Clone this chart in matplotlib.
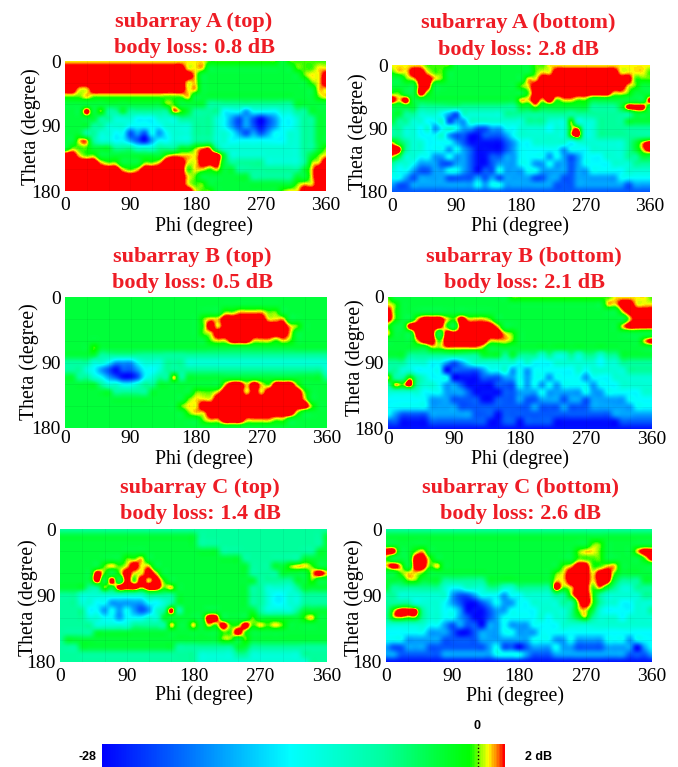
import numpy as np
import matplotlib
matplotlib.use("Agg")
import matplotlib.pyplot as plt
from matplotlib.colors import LinearSegmentedColormap, Normalize
from matplotlib.cm import ScalarMappable

W, H = 678, 767

# one digit per grid cell, read by eye: rows theta 0..180, columns phi 0..360, 10 degree steps
LEVELS_DB = [-27, -23, -19, -14, -11, -7, -3, -0.3, 0.8, 3]

A_TOP = [
    "8888888888 8888888888 7777777777 6777777",
    "9999999999 9999999888 6666666666 6677788",
    "9999999999 9999999986 6666666666 6667889",
    "9999999999 9999999886 6666666666 6666789",
    "9988999999 9999999886 6666666666 6666688",
    "7778777777 7777777866 6666666666 6666678",
    "6666666666 6666776666 5555555555 5566666",
    "6669675565 5555587655 5533323333 4455666",
    "6666655444 3334445555 5432121012 3345566",
    "6666554443 3333444455 5432121012 3345566",
    "6665544331 2132344455 5443212123 3445566",
    "6688544332 1023344455 5443333333 3445566",
    "6777666555 4445556678 8544444444 4445567",
    "9987766666 6666788889 9964444444 4445678",
    "9999987766 6778999889 9965555544 4445789",
    "9999999987 8999999788 7866555555 5556899",
    "9999999999 9999999876 6666665555 5566899",
    "9999999999 9999999877 6666666666 6678899",
    "9999999999 9999999987 7666666666 7889999",
]
A_BOTTOM = [
    "8888877776 6666666666 7788888888 8888888",
    "7889987766 6666666666 7889999999 9988887",
    "6678998766 6666666668 8999999999 9999777",
    "6666996666 6666666678 9999999999 9998766",
    "7766976666 6666666667 9999999999 9887666",
    "9896666666 6666666688 9897887766 6666669",
    "6666555555 5555555566 7666666655 5569996",
    "6655444321 4444445555 5555555555 5555666",
    "6554433412 2444444445 5544474445 5556666",
    "5544342343 2211223344 4434478445 5555555",
    "5544333421 1001112344 4444479445 5555555",
    "8654433332 1000001233 4444434444 4445689",
    "9954433323 2100001233 3333233344 4445689",
    "8644332232 2100112233 3323212333 4445566",
    "5443222112 2100122233 2232212333 3444555",
    "4332112233 2101132223 3222212233 3334444",
    "3321222211 1121212222 1122112222 2233333",
    "2112222222 2232332222 2221112222 2221222",
    "1111111111 1111111111 1111111111 1111111",
]
B_TOP = [
    "6666666666 6666666666 6666666666 6666666",
    "6666666666 6666666666 6666666666 6666666",
    "6666666666 6666666666 6677888877 6666666",
    "6666666666 6666666667 8899999988 8666666",
    "6666666666 6666666667 9899999999 9876666",
    "6666666666 6666666667 8999999999 9866666",
    "6666666666 6666666666 7889998887 8766666",
    "6666766666 6666666666 6666666666 6666666",
    "6666655555 5555555555 5555555555 5555555",
    "5555443222 3444555444 4444444444 4444444",
    "5554321011 2334555555 5555555555 5555554",
    "6655432100 1345585666 6666666666 6666665",
    "6666654433 4556666666 6689989879 9976666",
    "6666666555 5566666677 7899989899 9997666",
    "6666666666 6666666788 8999999999 9998666",
    "6666666666 6666667889 9999999999 9999766",
    "6666666666 6666666788 9999999999 9976666",
    "6666666666 6666666667 8899988887 7666666",
    "6666666666 6666666666 6666666666 6666666",
]
B_BOTTOM = [
    "7666666666 6666666777 7777777777 7888887",
    "8766666666 6666666666 6666666666 8899888",
    "9766666666 6666666666 6666666666 6689999",
    "9766899987 9888766666 6666666666 6668999",
    "7669999976 9999986666 6666666666 6689999",
    "8666999699 9999998766 6666666666 6666666",
    "6666899799 9999888766 6666666666 6666689",
    "6666667788 8887666666 6666666666 6666666",
    "6665555555 5556665655 5454454554 5566666",
    "5554443321 2344444434 3334444443 4455555",
    "5544333301 1112334232 3333334344 4445555",
    "8557543330 0001112232 3323333233 3444444",
    "5879544322 1000011132 3232333323 3344444",
    "4444433322 2100001122 2322222322 3333344",
    "3333332221 1110011121 1222122122 2223333",
    "3333332222 1111111111 2111211122 2222333",
    "3211112222 2211101111 1111111111 1222222",
    "1100001111 1111001101 1110000000 0011111",
    "0000000000 0000000000 0000000000 0000000",
]
C_TOP = [
    "5555555555 5555555555 5555555555 5555555",
    "6666666666 6666666665 5555555555 5555556",
    "6666666666 6666666665 5555555555 5555556",
    "6666666666 6666666666 6655555555 5555566",
    "6666666667 7866666666 6666655555 5556666",
    "6666667878 9886666666 6666665556 6788766",
    "6666697679 8898666666 6666665555 6666898",
    "6666696969 7989766666 6666666555 5566766",
    "6666557699 9899786666 6666665544 4456666",
    "5554444444 4455556666 6666665543 3445555",
    "5554433222 2233456666 6666665543 3445555",
    "5555332323 2124595666 6666666544 4456666",
    "5555443323 3344666666 9966667666 6667866",
    "5555544444 5555586686 8797797878 7666666",
    "5555566666 6666666666 6677976666 6666666",
    "5666666666 6666666666 6677676666 6666666",
    "5556666666 6666665555 5555665555 5555555",
    "5555555555 5555555554 4444554444 4445555",
    "5555555555 5555555554 4444444444 4444555",
]
C_BOTTOM = [
    "5555555555 5555555555 5555555555 5555555",
    "6666666666 6666666666 6666666666 6666666",
    "6666666666 6666666666 6666666677 6666666",
    "9966786666 6666666666 6666667887 6666899",
    "7666997666 6666666666 6666667777 6666679",
    "8986997866 6666666666 6666789977 8866666",
    "6678876666 6666666666 6667899989 9766666",
    "6667766655 5555666666 6668899989 9655566",
    "6555555543 3444554455 5559789978 6544555",
    "5544444442 1123332334 4445579975 4444455",
    "5555444432 1001232233 4444558975 4433444",
    "5799954433 2000122333 3444457864 3333445",
    "5787754433 2100123333 3434456754 4434444",
    "4444443321 2110223222 3333444444 4444444",
    "3333332221 0012223322 2333333333 3333333",
    "3332222211 1112222222 3332232222 3332333",
    "2112221111 1111231101 2223221111 2222023",
    "2211111122 2222233332 1112222222 2221112",
    "0000000000 0000000000 0000000000 0000000",
]

TITLES = [
    ("subarray A (top)", "body loss: 0.8 dB"),
    ("subarray A (bottom)", "body loss: 2.8 dB"),
    ("subarray B (top)", "body loss: 0.5 dB"),
    ("subarray B (bottom)", "body loss: 2.1 dB"),
    ("subarray C (top)", "body loss: 1.4 dB"),
    ("subarray C (bottom)", "body loss: 2.6 dB"),
]
PANELS = [A_TOP, A_BOTTOM, B_TOP, B_BOTTOM, C_TOP, C_BOTTOM]
PHI_TICKS = [0, 90, 180, 270, 360]
THETA_TICKS = [0, 90, 180]
DB_MIN, DB_MAX = -28, 2

# layout in pixels of the picture
# left, right, top, bottom, ylabel x, ylabel y, xlabel x, xlabel y, title x, title y1, title y2, x tick pad
LAYOUT = [
    (65, 326, 61, 191, 31, 127, 204, 226, 194, 22, 48, 4),
    (392, 650, 65, 192, 358, 132, 520, 226, 518, 23, 50, 4),
    (65, 327, 297, 428, 29, 362, 204, 459, 192, 257, 283, 1.5),
    (388, 652, 297, 429, 355, 358, 520, 459, 524, 257, 283, 1.5),
    (60, 327, 529, 662, 28, 598, 204, 695, 200, 488, 514, 4),
    (386, 652, 529, 662, 354, 598, 515, 696, 520, 488, 514, 4),
]

plt.rcParams["font.family"] = ["Liberation Serif", "DejaVu Serif"]

cmap = LinearSegmentedColormap.from_list("pattern", [
    (0.0, (0, 0, 1)),
    (0.2, (0, 0.42, 1)),
    (0.467, (0, 1, 1)),
    (0.7, (0, 1, 0.62)),
    (0.915, (0, 1, 0)),
    (0.96, (1, 1, 0)),
    (0.985, (1, 0.4, 0)),
    (1.0, (1, 0, 0)),
])
norm = Normalize(DB_MIN, DB_MAX)


def decode(rows):
    lookup = np.array(LEVELS_DB, dtype=float)
    digits = [[int(c) for c in r.replace(" ", "")] for r in rows]
    return lookup[np.array(digits)]


def fx(x):
    return x / W


def fy(y):
    return 1 - y / H


fig = plt.figure(figsize=(W / 100, H / 100), dpi=100)

for rows, title, box in zip(PANELS, TITLES, LAYOUT):
    left, right, top, bottom, ylx, yly, xlx, xly, tx, ty1, ty2, xpad = box
    ax = fig.add_axes([fx(left), fy(bottom), fx(right - left), (bottom - top) / H])
    # catrom goes through the read values, bicubic smooths small spots away
    ax.imshow(decode(rows), cmap=cmap, norm=norm, aspect="auto",
              extent=(-5, 365, 185, -5), interpolation="catrom",
              interpolation_stage="data")
    ax.set_xlim(0, 360)
    ax.set_ylim(180, 0)
    ax.set_xticks(PHI_TICKS)
    ax.set_yticks(THETA_TICKS)
    ax.tick_params(length=0, labelsize=14, pad=3)
    ax.tick_params(axis="x", pad=xpad)
    for s in ax.spines.values():
        s.set_visible(False)
    # faint 30 degree graticule
    for v in range(30, 360, 30):
        ax.axvline(v, color="k", lw=0.5, alpha=0.07)
    for v in range(30, 180, 30):
        ax.axhline(v, color="k", lw=0.5, alpha=0.07)

    fig.text(fx(ylx), fy(yly), "Theta (degree)", rotation=90, fontsize=14.3,
             ha="center", va="center")
    fig.text(fx(xlx), fy(xly), "Phi (degree)", fontsize=14.3, ha="center", va="center")
    fig.text(fx(tx), fy(ty1), title[0], fontsize=16, fontweight="bold",
             color="#ee1c25", ha="center", va="center")
    fig.text(fx(tx), fy(ty2), title[1], fontsize=16, fontweight="bold",
             color="#ee1c25", ha="center", va="center")

# colour bar runs off the bottom edge of the picture
cax = fig.add_axes([fx(102), 0, fx(505 - 102), (767 - 744) / H])
cb = fig.colorbar(ScalarMappable(norm=norm, cmap=cmap), cax=cax, orientation="horizontal")
cb.outline.set_visible(False)
cb.set_ticks([])
cax.axvline(0, color="k", lw=1, ls=":")

sans = ["Liberation Sans", "DejaVu Sans"]
fig.text(fx(87), fy(757), "-28", family=sans, fontsize=9, fontweight="bold",
         ha="center", va="center")
fig.text(fx(477), fy(726), "0", family=sans, fontsize=9, fontweight="bold",
         ha="center", va="center")
fig.text(fx(539), fy(757), "2 dB", family=sans, fontsize=9, fontweight="bold",
         ha="center", va="center")

fig.savefig("out.png", dpi=100)
plt.close(fig)
